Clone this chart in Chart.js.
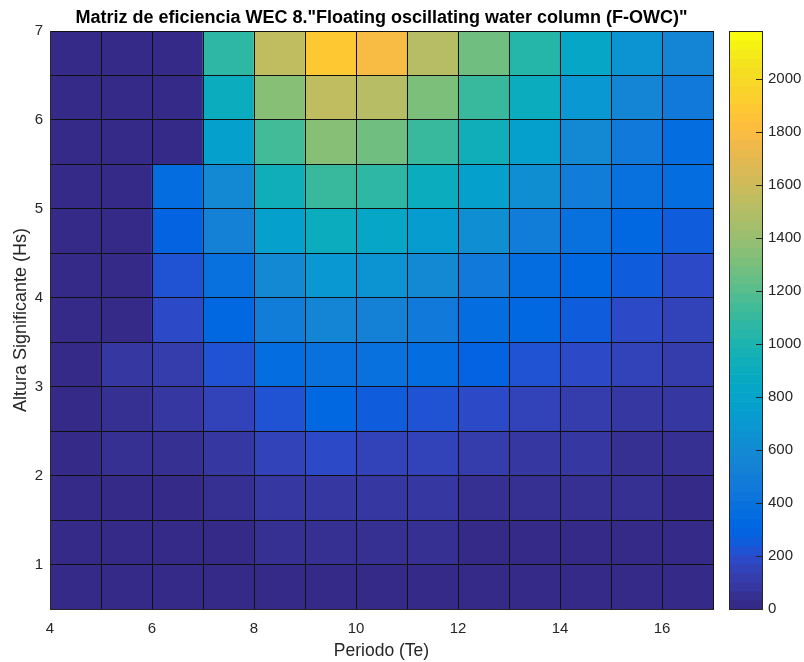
<!DOCTYPE html>
<html>
<head>
<meta charset="utf-8">
<script src="https://cdn.jsdelivr.net/npm/chart.js@4.4.1/dist/chart.umd.min.js"></script>
<style>
  html, body { margin: 0; padding: 0; background: #ffffff; }
  canvas { display: block; }
</style>
</head>
<body>
<canvas id="chart" width="804" height="662"></canvas>
<script>
// Wave period bins (Te): left edge of each column
const periodBins = [4, 5, 6, 7, 8, 9, 10, 11, 12, 13, 14, 15, 16];
// Significant wave height bins (Hs): lower edge of each row
const heightBins = [0.5, 1, 1.5, 2, 2.5, 3, 3.5, 4, 4.5, 5, 5.5, 6, 6.5];

// Efficiency values, one array per Hs bin, columns in periodBins order
const hs0_5 = [25, 28, 20, 15, 8, 6, 10, 14, 12, 14, 15, 11, 10];
const hs1_0 = [22, 30, 18, 14, 38, 42, 40, 40, 12, 12, 12, 14, 13];
const hs1_5 = [6, 28, 10, 45, 80, 82, 85, 78, 45, 55, 50, 42, 12];
const hs2_0 = [8, 48, 40, 76, 150, 180, 148, 145, 115, 82, 88, 48, 45];
const hs2_5 = [12, 55, 80, 145, 210, 310, 245, 215, 178, 140, 115, 75, 85];
const hs3_0 = [15, 85, 110, 215, 345, 385, 380, 350, 285, 212, 178, 145, 115];
const hs3_5 = [0, 0, 180, 320, 490, 560, 525, 455, 355, 315, 250, 185, 150];
const hs4_0 = [0, 0, 215, 385, 595, 690, 660, 590, 455, 355, 320, 250, 185];
const hs4_5 = [0, 0, 285, 520, 760, 900, 830, 725, 625, 490, 390, 320, 250];
const hs5_0 = [0, 0, 355, 595, 935, 1105, 1070, 900, 760, 625, 490, 385, 355];
const hs5_5 = [0, 0, 0, 760, 1140, 1345, 1275, 1105, 935, 760, 595, 455, 355];
const hs6_0 = [0, 0, 0, 900, 1345, 1550, 1515, 1310, 1105, 900, 695, 560, 455];
const hs6_5 = [0, 0, 0, 1070, 1550, 1890, 1785, 1515, 1275, 1035, 830, 665, 560];

// Colour limits and tick labels
const colorLimits = [0, 2180];
const xTickLabels = [4, 6, 8, 10, 12, 14, 16];
const yTickLabels = [1, 2, 3, 4, 5, 6, 7];
const colorbarTicks = [0, 200, 400, 600, 800, 1000, 1200, 1400, 1600, 1800, 2000];

const rows = [hs0_5, hs1_0, hs1_5, hs2_0, hs2_5, hs3_0, hs3_5, hs4_0, hs4_5, hs5_0, hs5_5, hs6_0, hs6_5];
const periodStep = periodBins[1] - periodBins[0];
const heightStep = heightBins[1] - heightBins[0];
const xEdges = periodBins.concat([periodBins[periodBins.length - 1] + periodStep]);
const yEdges = heightBins.concat([heightBins[heightBins.length - 1] + heightStep]);

// 64-entry parula colormap
const parula = [
  [0.2081,0.1663,0.5292],[0.2116,0.1898,0.5777],[0.2123,0.2138,0.6270],[0.2081,0.2386,0.6771],
  [0.1959,0.2645,0.7279],[0.1707,0.2919,0.7792],[0.1253,0.3242,0.8303],[0.0591,0.3598,0.8683],
  [0.0117,0.3875,0.8820],[0.0060,0.4086,0.8828],[0.0165,0.4266,0.8786],[0.0329,0.4430,0.8720],
  [0.0498,0.4586,0.8641],[0.0629,0.4737,0.8554],[0.0723,0.4887,0.8467],[0.0779,0.5040,0.8384],
  [0.0793,0.5200,0.8312],[0.0749,0.5375,0.8263],[0.0641,0.5570,0.8240],[0.0488,0.5772,0.8228],
  [0.0343,0.5966,0.8199],[0.0265,0.6137,0.8135],[0.0239,0.6287,0.8038],[0.0231,0.6418,0.7913],
  [0.0228,0.6535,0.7768],[0.0267,0.6642,0.7607],[0.0384,0.6743,0.7436],[0.0590,0.6838,0.7254],
  [0.0843,0.6928,0.7062],[0.1133,0.7015,0.6859],[0.1453,0.7098,0.6646],[0.1801,0.7177,0.6424],
  [0.2178,0.7250,0.6193],[0.2586,0.7317,0.5954],[0.3022,0.7376,0.5712],[0.3482,0.7424,0.5473],
  [0.3953,0.7459,0.5244],[0.4420,0.7481,0.5033],[0.4871,0.7491,0.4840],[0.5300,0.7491,0.4661],
  [0.5709,0.7485,0.4494],[0.6099,0.7473,0.4337],[0.6473,0.7456,0.4188],[0.6834,0.7435,0.4044],
  [0.7184,0.7411,0.3905],[0.7525,0.7384,0.3768],[0.7858,0.7356,0.3633],[0.8185,0.7327,0.3498],
  [0.8507,0.7299,0.3360],[0.8824,0.7274,0.3217],[0.9139,0.7258,0.3063],[0.9450,0.7261,0.2886],
  [0.9739,0.7314,0.2666],[0.9938,0.7455,0.2403],[0.9990,0.7653,0.2164],[0.9955,0.7861,0.1967],
  [0.9880,0.8066,0.1794],[0.9789,0.8271,0.1633],[0.9697,0.8481,0.1475],[0.9626,0.8705,0.1309],
  [0.9589,0.8949,0.1132],[0.9598,0.9218,0.0948],[0.9661,0.9514,0.0755],[0.9763,0.9831,0.0538]
];

function rgbOf(c) {
  return 'rgb(' + Math.round(c[0] * 255) + ',' + Math.round(c[1] * 255) + ',' + Math.round(c[2] * 255) + ')';
}
function colorFor(v) {
  const [lo, hi] = colorLimits;
  const n = parula.length;
  const idx = Math.min(n - 1, Math.max(0, Math.floor((v - lo) / (hi - lo) * n)));
  return rgbOf(parula[idx]);
}

// One floating-bar dataset per Hs row; each bar is one cell
const datasets = heightBins.map((h, r) => ({
  data: periodBins.map(p => ({ x: p + periodStep / 2, y: [h, h + heightStep] })),
  backgroundColor: rows[r].map(colorFor),
  borderWidth: 0,
  grouped: false,
  barPercentage: 1,
  categoryPercentage: 1
}));

// Draws the colour scale next to the plot using the 'cb' axis
const colorbarPlugin = {
  id: 'colorbar',
  afterDraw(chart) {
    const ctx = chart.ctx;
    const cb = chart.scales.cb;
    const area = chart.chartArea;
    const left = area.right + 16;
    const width = 33;
    const [lo, hi] = colorLimits;
    const n = parula.length;
    ctx.save();
    for (let i = 0; i < n; i++) {
      const yA = cb.getPixelForValue(lo + (hi - lo) * i / n);
      const yB = cb.getPixelForValue(lo + (hi - lo) * (i + 1) / n);
      ctx.fillStyle = rgbOf(parula[i]);
      ctx.fillRect(left, yB, width, yA - yB + 0.6);
    }
    ctx.strokeStyle = '#262626';
    ctx.lineWidth = 1;
    ctx.strokeRect(left + 0.5, area.top + 0.5, width, area.bottom - area.top);
    ctx.beginPath();
    cb.ticks.forEach(t => {
      const y = Math.round(cb.getPixelForValue(t.value)) + 0.5;
      ctx.moveTo(left + width, y);
      ctx.lineTo(left + width - 6, y);
    });
    ctx.stroke();
    ctx.restore();
  }
};

Chart.defaults.font.family = "'Liberation Sans', Arial, Helvetica, sans-serif";
Chart.defaults.color = '#262626';

new Chart(document.getElementById('chart'), {
  type: 'bar',
  data: { datasets },
  options: {
    responsive: false,
    animation: false,
    devicePixelRatio: 1,
    layout: { padding: { top: 0, left: 0, right: 0, bottom: 0 } },
    plugins: {
      legend: { display: false },
      tooltip: { enabled: false },
      title: {
        display: true,
        fullSize: false,
        text: 'Matriz de eficiencia WEC 8."Floating oscillating water column (F-OWC)"',
        color: '#000000',
        font: { size: 18, weight: 'bold' },
        padding: { top: 7, bottom: 2.4 }
      }
    },
    scales: {
      x: {
        type: 'linear',
        position: 'bottom',
        offset: false,
        min: xEdges[0],
        max: xEdges[xEdges.length - 1],
        afterBuildTicks: s => { s.ticks = xEdges.map(v => ({ value: v })); },
        afterFit: s => { s.height = 53; },
        ticks: {
          autoSkip: false,
          maxRotation: 0,
          padding: 11,
          font: { size: 15 },
          color: '#262626',
          callback: v => (xTickLabels.includes(v) ? String(v) : '')
        },
        grid: { offset: false, color: '#111111', lineWidth: 1, drawTicks: false, z: 1 },
        border: { display: true, color: '#262626', z: 2 },
        title: {
          display: true,
          text: 'Periodo (Te)',
          color: '#262626',
          font: { size: 17.5 },
          padding: { top: 0, bottom: 0.5 }
        }
      },
      y: {
        type: 'linear',
        position: 'left',
        min: yEdges[0],
        max: yEdges[yEdges.length - 1],
        afterBuildTicks: s => { s.ticks = yEdges.map(v => ({ value: v })); },
        afterFit: s => { s.width = 50; },
        ticks: {
          autoSkip: false,
          padding: 7,
          font: { size: 15 },
          color: '#262626',
          callback: v => (yTickLabels.includes(v) ? String(v) : '')
        },
        grid: { color: '#111111', lineWidth: 1, drawTicks: false, z: 1 },
        border: { display: true, color: '#262626', z: 2 },
        title: {
          display: true,
          text: 'Altura Significante (Hs)',
          color: '#262626',
          font: { size: 18 },
          padding: { top: 10.6, bottom: 0 }
        }
      },
      cb: {
        type: 'linear',
        position: 'right',
        min: colorLimits[0],
        max: colorLimits[1],
        afterBuildTicks: s => { s.ticks = colorbarTicks.map(v => ({ value: v })); },
        afterFit: s => { s.width = 91; },
        ticks: {
          padding: 5,
          font: { size: 15 },
          color: '#262626',
          callback: v => String(v)
        },
        grid: {
          display: true,
          drawOnChartArea: false,
          drawTicks: true,
          tickLength: 50,
          color: 'rgba(0,0,0,0)'
        },
        border: { display: false }
      }
    }
  },
  plugins: [colorbarPlugin]
});
</script>
</body>
</html>
